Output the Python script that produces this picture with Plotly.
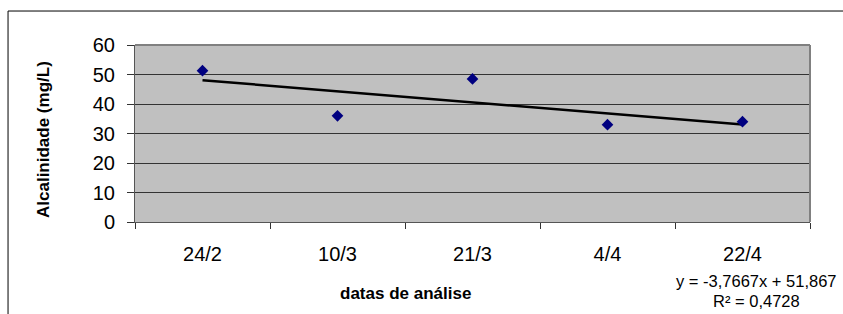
import numpy as np
import plotly.graph_objects as go

# Data
datas = ["24/2", "10/3", "21/3", "4/4", "22/4"]
alcalinidade = [51.3, 36.0, 48.5, 33.0, 34.0]
y_ticks = [0, 10, 20, 30, 40, 50, 60]

# Linear trend (Excel-style, x = 1..n)
xi = np.arange(1, len(datas) + 1)
slope, intercept = np.polyfit(xi, alcalinidade, 1)
trend = slope * xi + intercept

FONT = "Liberation Sans, Arial, sans-serif"

fig = go.Figure()
fig.add_trace(go.Scatter(
    x=datas, y=trend, mode="lines",
    line=dict(color="black", width=2.5), hoverinfo="skip", showlegend=False))
fig.add_trace(go.Scatter(
    x=datas, y=alcalinidade, mode="markers",
    marker=dict(symbol="diamond", size=9, color="#000080"),
    showlegend=False))

fig.update_layout(
    width=843, height=314,
    margin=dict(l=135, r=33, t=45, b=92),
    paper_bgcolor="white", plot_bgcolor="#C0C0C0",
    font=dict(family=FONT, size=20, color="black"),
    showlegend=False,
)
fig.update_xaxes(
    type="category", tickson="boundaries",
    ticks="outside", ticklen=6, tickcolor="#333333", tickwidth=1,
    showgrid=False, showline=True, linecolor="#555555", linewidth=1,
    mirror=False, ticklabelstandoff=14,
    tickfont=dict(family=FONT, size=20, color="black"),
    range=[-0.5, len(datas) - 0.5],
)
fig.update_yaxes(
    range=[0, 60], tickvals=y_ticks,
    ticks="outside", ticklen=7, tickcolor="#333333", tickwidth=1,
    showgrid=True, gridcolor="#333333", gridwidth=1,
    showline=True, linecolor="#555555", linewidth=1,
    zeroline=False, ticklabelstandoff=8,
    tickfont=dict(family=FONT, size=20, color="black"),
)

# plot-area border (top/right gray)
fig.add_shape(type="line", xref="paper", yref="paper", x0=0, x1=1, y0=1, y1=1,
              line=dict(color="#808080", width=2))
fig.add_shape(type="line", xref="paper", yref="paper", x0=1, x1=1, y0=0, y1=1,
              line=dict(color="#808080", width=2))
# outer chart border
fig.add_shape(type="rect", xref="paper", yref="paper",
              x0=-0.1881, x1=1.06, y0=-0.56, y1=1.192,
              line=dict(color="black", width=1), fillcolor="rgba(0,0,0,0)")

# Axis titles
fig.add_annotation(text="<b>datas de análise</b>", xref="paper", yref="paper",
                   x=(405 - 135) / 675, y=(222 - 293) / 177, showarrow=False,
                   font=dict(family=FONT, size=17, color="black"),
                   xanchor="center", yanchor="middle")
fig.add_annotation(text="<b>Alcalinidade (mg/L)</b>", xref="paper", yref="paper",
                   x=(43 - 135) / 675, y=(222 - 140) / 177, showarrow=False,
                   textangle=-90,
                   font=dict(family=FONT, size=17, color="black"),
                   xanchor="center", yanchor="middle")

# Trendline equation
fig.add_annotation(text="y = -3,7667x + 51,867", xref="paper", yref="paper",
                   x=(756 - 135) / 675, y=(222 - 281) / 177, showarrow=False,
                   font=dict(family=FONT, size=16.5, color="black"),
                   xanchor="center", yanchor="middle")
fig.add_annotation(text="R² = 0,4728", xref="paper", yref="paper",
                   x=(756 - 135) / 675, y=(222 - 301) / 177, showarrow=False,
                   font=dict(family=FONT, size=16.5, color="black"),
                   xanchor="center", yanchor="middle")

fig.write_html("out.html", config={"displayModeBar": False},
               post_script="document.body.style.margin='0';")
